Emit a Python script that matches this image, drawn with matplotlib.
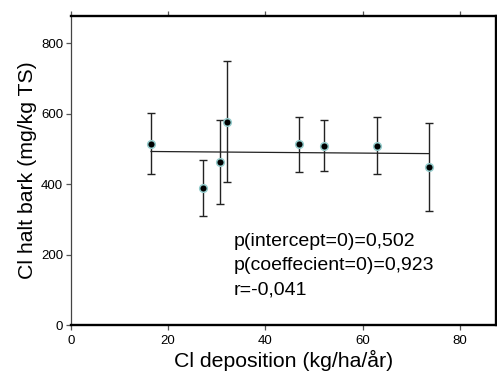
import matplotlib
matplotlib.use('Agg')
import matplotlib.pyplot as plt
import numpy as np

plt.rcParams['font.family'] = ['Liberation Sans', 'DejaVu Sans']

# Cl deposition vs Cl halt bark, mean +/- error
depo = [16.5, 27.2, 30.6, 32.0, 46.9, 52.1, 62.9, 73.6]
halt = [515, 390, 463, 578, 513, 510, 510, 449]
err = [87, 79, 120, 173, 78, 72, 81, 125]

# regression line endpoints
line_x = [16.5, 73.6]
line_y = [493, 487]

stats = ['p(intercept=0)=0,502', 'p(coeffecient=0)=0,923', 'r=-0,041']

fig = plt.figure(figsize=(4.97, 3.78), dpi=100)
ax = fig.add_axes([0.1423, 0.1402, 0.8551, 0.8175])

ax.plot(line_x, line_y, color='#222222', lw=0.9, zorder=2)
ax.errorbar(depo, halt, yerr=err, fmt='none', ecolor='#222222', elinewidth=1.0,
            capsize=3.2, capthick=1.0, zorder=3)
ax.plot(depo, halt, 'o', ms=5.5, mfc='black', mec='#94cccc', mew=1.1, zorder=4)

ax.set_xlim(0, 87.3)
ax.set_ylim(0, 878)
ax.set_xticks([0, 20, 40, 60, 80])
ax.set_yticks([0, 200, 400, 600, 800])

ax.tick_params(axis='x', direction='out', length=3.5, width=0.9, color='#555555',
               labelsize=9.5, top=True, pad=4)
ax.tick_params(axis='y', direction='out', length=3.5, width=0.9, color='#555555',
               labelsize=9.5, pad=2)

for side in ['top', 'right', 'bottom']:
    ax.spines[side].set_linewidth(1.7)
    ax.spines[side].set_color('black')
ax.spines['left'].set_linewidth(0.9)
ax.spines['left'].set_color('#444444')

ax.set_xlabel('Cl deposition (kg/ha/år)', fontsize=15.3, labelpad=2)
ax.set_ylabel('Cl halt bark (mg/kg TS)', fontsize=15.3, labelpad=3)

for i, s in enumerate(stats):
    ax.text(0.384, 0.27 - i * 0.079, s, transform=ax.transAxes,
            fontsize=14, va='center', ha='left')

fig.savefig('out.png', dpi=100)
